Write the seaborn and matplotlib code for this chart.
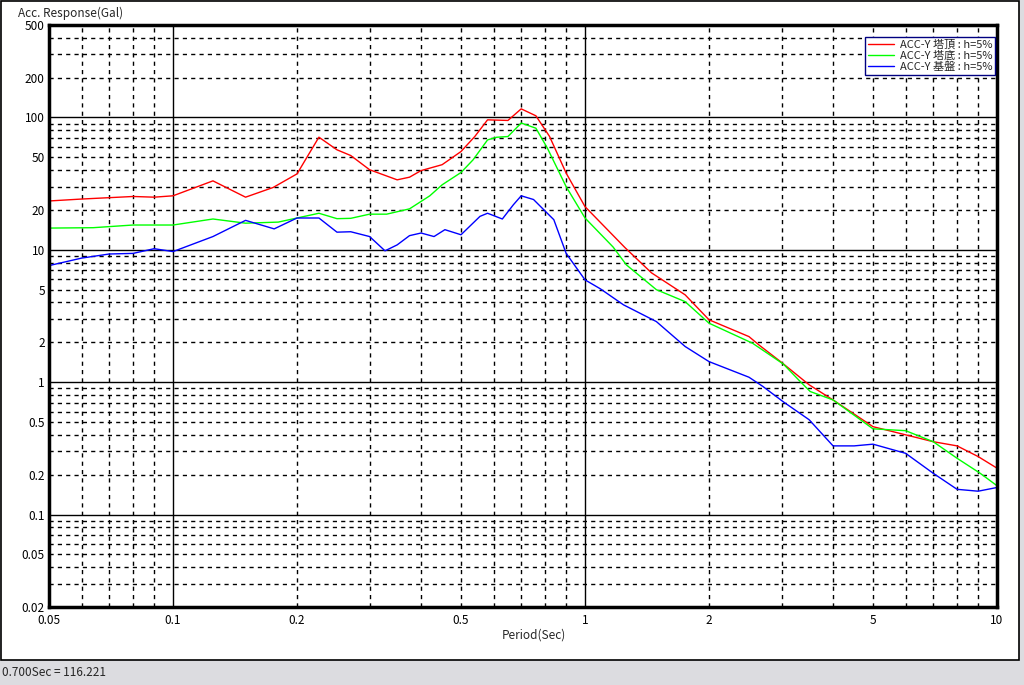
import matplotlib
matplotlib.use("Agg")
import matplotlib.pyplot as plt
import matplotlib.ticker as mticker
from matplotlib.patches import Rectangle
import seaborn as sns

# periodo (s) e aceleração de resposta (Gal)
top_x = [0.05, 0.06, 0.08, 0.09, 0.1, 0.125, 0.15, 0.175, 0.2, 0.226, 0.25, 0.27,
         0.3, 0.35, 0.375, 0.4, 0.45, 0.5, 0.54, 0.58, 0.65, 0.7, 0.76, 0.82, 0.9,
         1.0, 1.25, 1.45, 1.75, 2.0, 2.5, 2.65, 3.0, 3.5, 4.0, 5.0, 6.0, 7.0,
         8.0, 9.0, 10.0]
top_y = [23.4, 24.2, 25.3, 25.0, 25.6, 33.2, 25.0, 29.6, 37.5, 71, 57, 51.6,
         40.3, 33.8, 35.4, 39.7, 44, 55.3, 71.8, 96, 95, 116.2, 103, 72, 38,
         21.2, 10.4, 6.7, 4.57, 2.96, 2.21, 1.9, 1.41, 0.955, 0.734, 0.461,
         0.40, 0.355, 0.33, 0.274, 0.224]

bot_x = [0.05, 0.064, 0.08, 0.1, 0.125, 0.15, 0.18, 0.2, 0.226, 0.25, 0.27, 0.3,
         0.33, 0.375, 0.42, 0.45, 0.5, 0.535, 0.58, 0.61, 0.65, 0.7, 0.76, 0.81,
         0.9, 1.0, 1.17, 1.26, 1.49, 1.75, 2.0, 2.55, 3.03, 3.3, 3.52, 4.0, 5.0,
         6.0, 7.0, 8.0, 9.1, 10.0]
bot_y = [14.6, 14.7, 15.4, 15.4, 17.1, 15.9, 16.2, 17.4, 18.9, 17.2, 17.3, 18.6,
         18.6, 20.4, 25.6, 31, 38.4, 47.9, 67.7, 70.9, 71.8, 90.8, 83, 58.8,
         30, 17.4, 10.5, 7.7, 5.0, 4.06, 2.79, 1.97, 1.37, 1.04, 0.85, 0.734, 0.444,
         0.43, 0.355, 0.266, 0.205, 0.165]

base_x = [0.05, 0.06, 0.07, 0.08, 0.09, 0.1, 0.125, 0.15, 0.176, 0.2, 0.226, 0.25,
          0.27, 0.3, 0.327, 0.35, 0.375, 0.4, 0.43, 0.457, 0.5, 0.556, 0.58, 0.63,
          0.67, 0.7, 0.75, 0.81, 0.84, 0.9, 1.0, 1.09, 1.24, 1.49, 1.75, 2.0, 2.5,
          2.7, 3.03, 3.5, 4.0, 4.5, 5.0, 6.0, 7.0, 8.0, 9.0, 10.0]
base_y = [7.6, 8.66, 9.3, 9.4, 10.2, 9.7, 12.6, 16.7, 14.4, 17.4, 17.4, 13.6,
          13.7, 12.6, 9.83, 10.9, 12.8, 13.4, 12.6, 14.2, 13.0, 17.9, 18.9, 17.1,
          21.9, 25.6, 24.0, 18.9, 16.9, 9.4, 5.93, 5.07, 3.84, 2.87, 1.86, 1.43, 1.09,
          0.93, 0.71, 0.52, 0.33, 0.33, 0.34, 0.29, 0.205, 0.155, 0.15, 0.16]

labels = ["ACC-Y 塔頂 : h=5%", "ACC-Y 塔底 : h=5%", "ACC-Y 基盤 : h=5%"]
status = "0.700Sec = 116.221"

sns.set_style("white")
plt.rcParams['font.family'] = ['Noto Sans CJK JP', 'DejaVu Sans']

fig = plt.figure(figsize=(10.24, 6.85), dpi=100)
fig.patch.set_facecolor("#dcdce0")
# moldura branca da janela
frame = Rectangle((0.0005, 1 - 660/685), 1018/1024, 659/685,
                  transform=fig.transFigure, facecolor="white",
                  edgecolor="black", lw=1.2, zorder=-5)
fig.add_artist(frame)

ax = fig.add_axes([49/1024, 1 - 607/685, 948/1024, 582/685])
ax.set_zorder(2)
sns.lineplot(x=top_x, y=top_y, ax=ax, color="#ff0000", lw=1, label=labels[0],
             sort=False, estimator=None)
sns.lineplot(x=bot_x, y=bot_y, ax=ax, color="#00ff00", lw=1, label=labels[1],
             sort=False, estimator=None)
sns.lineplot(x=base_x, y=base_y, ax=ax, color="#0000ff", lw=1, label=labels[2],
             sort=False, estimator=None)

ax.set_xscale("log")
ax.set_yscale("log")
ax.set_xlim(0.05, 10)
ax.set_ylim(0.02, 500)

def fmt(v, pos):
    s = f"{v:g}"
    m = float(f"{v:e}".split("e")[0])
    return s if round(m) in (1, 2, 5) else ""

for axis in (ax.xaxis, ax.yaxis):
    axis.set_major_locator(mticker.LogLocator(base=10, subs=(1.0,)))
    axis.set_minor_locator(mticker.LogLocator(base=10, subs=range(2, 10)))
    axis.set_major_formatter(mticker.FuncFormatter(fmt))
    axis.set_minor_formatter(mticker.FuncFormatter(fmt))

ax.tick_params(which="both", length=0, labelsize=8.5, colors="black")
ax.tick_params(axis="y", which="both", pad=3)
ax.tick_params(axis="x", which="both", pad=5)
ax.grid(which="major", color="black", lw=1, ls="-")
ax.grid(which="minor", color="black", lw=1, ls=(0, (3, 3)))
for sp in ax.spines.values():
    sp.set_visible(True)
    sp.set_color("black")
    sp.set_linewidth(2.5)
ax.set_xlabel("")
ax.set_ylabel("")

leg = ax.legend(loc="upper right", bbox_to_anchor=(0.998, 0.979), borderaxespad=0,
                fontsize=8, fancybox=False, framealpha=1, edgecolor="#000080",
                handlelength=2.4, handletextpad=0.5, borderpad=0.25, labelspacing=0.05)
leg.get_frame().set_linewidth(1)

fig.text(18/1024, 1 - 13/685, "Acc. Response(Gal)", fontsize=8.5, va="center", ha="left")
fig.text(502/1024, 1 - 635/685, "Period(Sec)", fontsize=8.5, va="center", ha="left")
fig.text(2/1024, 1 - 673/685, status, fontsize=8.5, va="center", ha="left")

fig.savefig("out.png", dpi=100, facecolor=fig.get_facecolor())
